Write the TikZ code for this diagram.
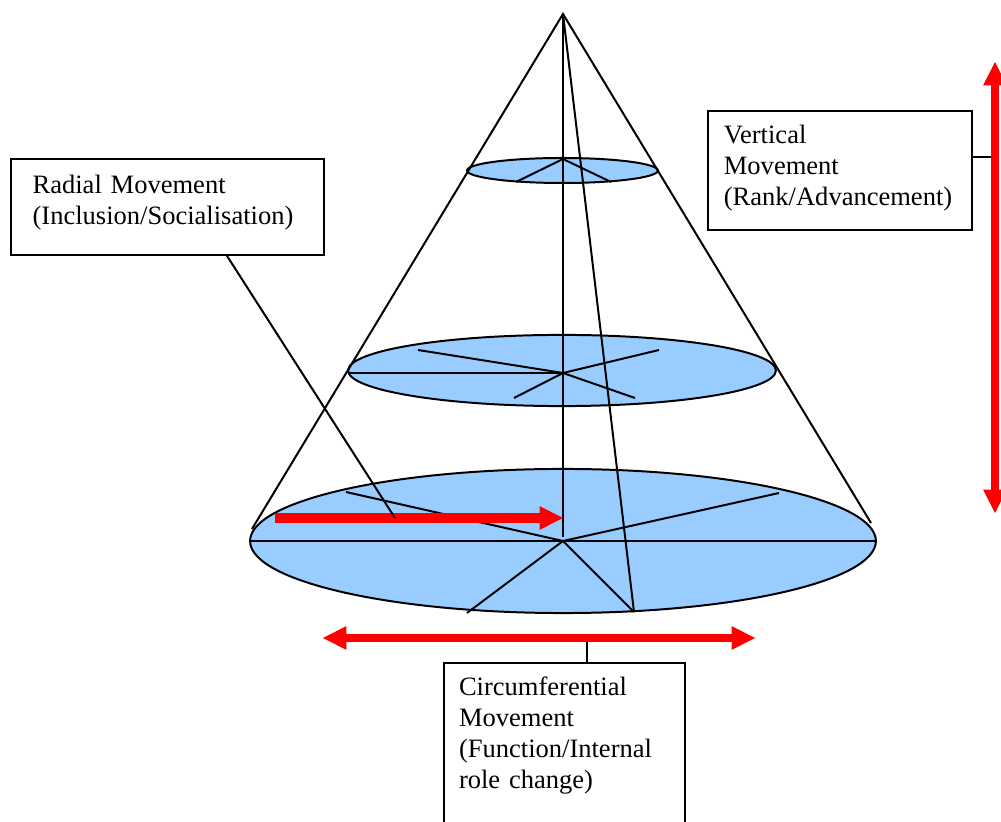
\documentclass[tikz,border=0pt]{standalone}
\usepackage{fontspec}
\setmainfont{Liberation Serif}
\usetikzlibrary{arrows.meta}
\definecolor{discblue}{RGB}{153,204,255}
\definecolor{arrowred}{RGB}{255,0,0}
\tikzset{redtip/.tip={Triangle[length=10.6pt,width=10.8pt,line width=0pt]}}

\begin{document}
\begin{tikzpicture}[x=0.4525pt,y=-0.4525pt,
  edge/.style={line width=0.9pt},
  disc/.style={fill=discblue, draw=black, line width=0.9pt},
  bigarrow/.style={draw=arrowred, line width=3.7pt},
  label box/.style={draw, line width=0.9pt, anchor=north west, align=left,
    inner ysep=0pt, font=\fontsize{12}{14}\selectfont},
  callout/.style={line width=0.9pt}]

\useasboundingbox (0,0) rectangle (1001,822);
\clip (0,0) rectangle (1001,822);

% cone points
\coordinate (apex) at (563,14);
\coordinate (coneL) at (252,529);
\coordinate (coneR) at (871,523);
\coordinate (axisEnd) at (563,537);
\coordinate (slantEnd) at (634,612);

% the three discs
\draw[disc] (562.5,170.5) ellipse [x radius=43.2pt, y radius=5.66pt];
\draw[disc] (562,370.5) ellipse [x radius=96.8pt, y radius=16.1pt];
\draw[disc] (563,541) ellipse [x radius=141.6pt, y radius=32.6pt];

% cone outline and inner lines
\draw[edge] (coneL) -- (apex) -- (coneR);
\draw[edge] (apex) -- (axisEnd);
\draw[edge] (apex) -- (slantEnd);

% spokes of the top disc
\coordinate (topC) at (563,159);
\draw[edge] (topC) -- (516,182);
\draw[edge] (topC) -- (611,182);

% spokes of the middle disc
\coordinate (midC) at (563,373);
\draw[edge] (348,373) -- (midC);
\draw[edge] (midC) -- (418,350);
\draw[edge] (midC) -- (659,350);
\draw[edge] (midC) -- (514,398);
\draw[edge] (midC) -- (635,398);

% spokes of the bottom disc
\coordinate (botC) at (563,541);
\draw[edge] (250,541) -- (876,541);
\draw[edge] (botC) -- (346,492);
\draw[edge] (botC) -- (779,493);
\draw[edge] (botC) -- (467,613);
\draw[edge] (botC) -- (634,612);

% text boxes
\node[label box, inner xsep=9.8pt, text width=122pt, text height=15.8pt, text depth=27.6pt]
  (rad) at (10,158) {Radial Movement\\(Inclusion/Socialisation)};
\node[label box, inner xsep=7.2pt, text width=105.1pt, text height=14.9pt, text depth=38.9pt]
  (vert) at (707,110) {Vertical\\Movement\\(Rank/Advancement)};
\node[label box, inner xsep=6.8pt, text width=95.5pt, text height=14.9pt, text depth=70pt]
  (circ) at (443,662) {Circumferential\\Movement\\(Function/Internal\\role change)};

% arrow coordinates
\coordinate (radS) at (275,518);
\coordinate (radE) at (563,518);
\coordinate (cirL) at (323,638);
\coordinate (cirR) at (755,638);
\coordinate (cirTick) at (587,638);
\coordinate (verT) at (995,62);
\coordinate (verB) at (995,513);
\coordinate (verTick) at (993,157);
\coordinate (radTick) at (395,518);

% callouts running under the red arrows
\draw[callout] (vert.east |- verTick) -- (verTick);
\draw[callout] (cirTick) -- (cirTick |- circ.north);

% red movement arrows
\draw[bigarrow, line width=4.1pt, -{redtip}] (radS) -- (radE);
\draw[bigarrow, {redtip}-{redtip}] (cirL) -- (cirR);
\draw[bigarrow, {redtip}-{redtip}] (verT) -- (verB);

% radial callout on top of its arrow
\draw[callout] (227,0 |- rad.south) -- (radTick);

\end{tikzpicture}
\end{document}
